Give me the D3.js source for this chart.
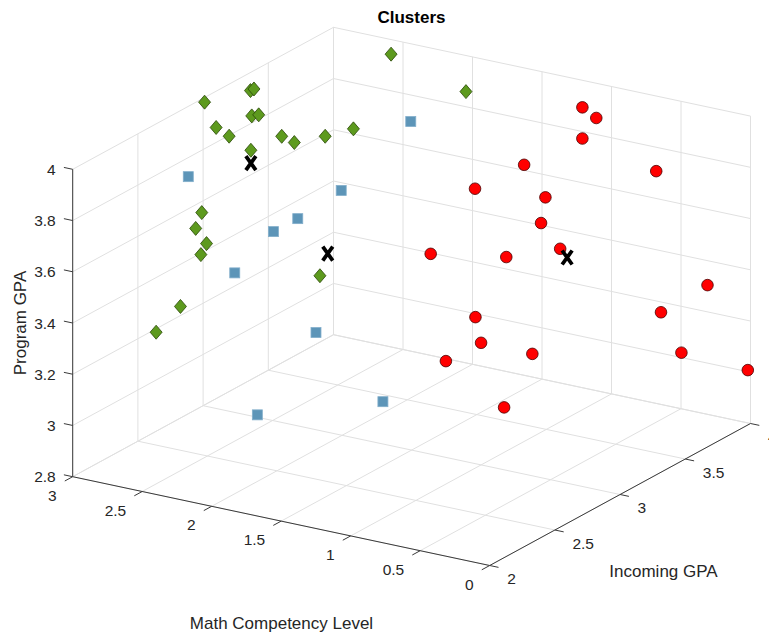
<!DOCTYPE html>
<html>
<head>
<meta charset="utf-8">
<script src="https://cdn.jsdelivr.net/npm/d3@7"></script>
<style>
  body { margin: 0; background: #fff; }
  svg { display: block; }
  text { font-family: "Liberation Sans", Arial, Helvetica, sans-serif; }
</style>
</head>
<body>
<script>
// ---- data: math competency level, incoming GPA, program GPA per cluster ----
const cluster1Math     = [2.52, 1.85, 2.98, 2.95, 2.85, 2.80, 2.75, 2.85, 2.70, 2.50, 2.40, 2.30, 2.20, 2.60, 2.70, 2.80, 2.60, 2.50, 2.60, 2.70, 2.00];
const cluster1Incoming = [3.93, 3.79, 2.99, 3.31, 3.23, 3.16, 3.16, 2.94, 2.88, 3.07, 3.06, 3.19, 3.30, 2.94, 2.67, 2.73, 2.60, 2.45, 2.40, 2.32, 2.83];
const cluster1Program  = [3.97, 3.94, 3.99, 3.95, 3.99, 3.91, 3.92, 3.92, 3.92, 3.89, 3.88, 3.88, 3.89, 3.86, 3.68, 3.59, 3.59, 3.60, 3.40, 3.31, 3.47];

const cluster2Math     = [2.60, 1.80, 2.00, 2.10, 1.90, 2.20, 1.70, 2.00, 1.50];
const cluster2Incoming = [2.46, 2.78, 2.66, 2.58, 3.42, 2.39, 2.48, 2.35, 2.78];
const cluster2Program  = [3.89, 3.84, 3.74, 3.70, 3.92, 3.58, 3.38, 3.06, 3.05];

const cluster3Math     = [1.05, 0.95, 0.90, 1.00, 0.50, 1.10, 0.80, 0.70, 0.60, 1.10, 0.80, 0.15, 0.40, 0.90, 0.70, 0.50, 1.00, 0.30, 0.01, 0.60];
const cluster3Incoming = [3.83, 3.83, 3.67, 3.33, 3.81, 3.06, 3.28, 3.14, 3.18, 2.72, 2.98, 3.83, 3.74, 2.85, 2.68, 2.86, 2.73, 3.79, 3.99, 2.75];
const cluster3Program  = [3.96, 3.93, 3.90, 3.88, 3.78, 3.85, 3.79, 3.74, 3.64, 3.69, 3.64, 3.37, 3.26, 3.43, 3.40, 3.33, 3.28, 3.10, 3.01, 3.14];

// cluster centres
const centroidMath     = [2.60, 2.00, 0.70];
const centroidIncoming = [2.94, 2.89, 3.34];
const centroidProgram  = [3.81, 3.54, 3.55];

// axis ticks
const mathTicks     = [0, 0.5, 1, 1.5, 2, 2.5, 3];
const incomingTicks = [2, 2.5, 3, 3.5, 4];
const programTicks  = [2.8, 3, 3.2, 3.4, 3.6, 3.8, 4];

// ---- layout ----
const W = 769, H = 633;
const svg = d3.select("body").append("svg").attr("width", W).attr("height", H);

const xScale = d3.scaleLinear().domain([0, 3]).range([0, 1]);
const yScale = d3.scaleLinear().domain([2, 4]).range([0, 1]);
const zScale = d3.scaleLinear().domain([2.8, 4]).range([0, 1]);
const [x0, x1] = xScale.domain();
const [y0, y1] = yScale.domain();
const [z0, z1] = zScale.domain();

// orthographic view: screen vectors of the normalised box edges
const origin = [489.7, 565.5];        // (math 0, incoming 2, program 2.8)
const edgeX = [-417, -88.8];
const edgeY = [260.8, -142];
const edgeZ = [0, -307.4];

function project(x, y, z) {
  const u = xScale(x), v = yScale(y), w = zScale(z);
  return [origin[0] + u * edgeX[0] + v * edgeY[0] + w * edgeZ[0],
          origin[1] + u * edgeX[1] + v * edgeY[1] + w * edgeZ[1]];
}
function unit(v) { const l = Math.hypot(v[0], v[1]); return [v[0] / l, v[1] / l]; }

// ---- grid on the back planes ----
const grid = svg.append("g").attr("stroke", "#e0e0e0").attr("stroke-width", 1).attr("fill", "none");
function gridLine(a, b) {
  grid.append("line").attr("x1", a[0]).attr("y1", a[1]).attr("x2", b[0]).attr("y2", b[1]);
}
// floor
mathTicks.forEach(t => gridLine(project(t, y0, z0), project(t, y1, z0)));
incomingTicks.forEach(t => gridLine(project(x0, t, z0), project(x1, t, z0)));
// left wall (math = 3)
incomingTicks.forEach(t => gridLine(project(x1, t, z0), project(x1, t, z1)));
programTicks.forEach(t => gridLine(project(x1, y0, t), project(x1, y1, t)));
// right wall (incoming = 4)
mathTicks.forEach(t => gridLine(project(t, y1, z0), project(t, y1, z1)));
programTicks.forEach(t => gridLine(project(x0, y1, t), project(x1, y1, t)));

// ---- axes ----
const axes = svg.append("g").attr("stroke", "#3a3a3a").attr("stroke-width", 1).attr("fill", "none");
function axisLine(a, b) {
  axes.append("line").attr("x1", a[0]).attr("y1", a[1]).attr("x2", b[0]).attr("y2", b[1]);
}
axisLine(project(x1, y0, z0), project(x1, y0, z1));   // program GPA
axisLine(project(x0, y0, z0), project(x1, y0, z0));   // math level
axisLine(project(x0, y0, z0), project(x0, y1, z0));   // incoming GPA

const tickLen = 9;
const dirZTick = unit(edgeX);
const dirXTick = unit([-edgeY[0], -edgeY[1]]);
const dirYTick = unit([-edgeX[0], -edgeX[1]]);

const labels = svg.append("g").attr("fill", "#262626").attr("font-size", 15.5);

programTicks.forEach(t => {
  const p = project(x1, y0, t);
  axisLine(p, [p[0] + dirZTick[0] * tickLen, p[1] + dirZTick[1] * tickLen]);
  labels.append("text").attr("x", p[0] - 17).attr("y", p[1])
    .attr("text-anchor", "end").attr("dominant-baseline", "central").text(String(t));
});
mathTicks.forEach(t => {
  const p = project(t, y0, z0);
  axisLine(p, [p[0] + dirXTick[0] * tickLen, p[1] + dirXTick[1] * tickLen]);
  labels.append("text").attr("x", p[0] - 16).attr("y", p[1] + 18.5)
    .attr("text-anchor", "end").attr("dominant-baseline", "central").text(String(t));
});
incomingTicks.forEach(t => {
  const p = project(x0, t, z0);
  axisLine(p, [p[0] + dirYTick[0] * tickLen, p[1] + dirYTick[1] * tickLen]);
  labels.append("text").attr("x", p[0] + 17.5).attr("y", p[1] + 13)
    .attr("text-anchor", "start").attr("dominant-baseline", "central").text(String(t));
});

// axis titles
const titles = svg.append("g").attr("fill", "#262626").attr("font-size", 17).attr("text-anchor", "middle");
titles.append("text").attr("x", 281.5).attr("y", 623).attr("dominant-baseline", "central").text("Math Competency Level");
titles.append("text").attr("x", 663.5).attr("y", 571).attr("dominant-baseline", "central").text("Incoming GPA");
titles.append("text").attr("transform", "translate(20,323) rotate(-90)").attr("dominant-baseline", "central").text("Program GPA");
svg.append("text").attr("x", 411.5).attr("y", 17.5).attr("text-anchor", "middle")
  .attr("dominant-baseline", "central").attr("font-size", 17).attr("font-weight", "bold")
  .attr("fill", "#000").text("Clusters");

// ---- markers ----
const marks = svg.append("g");

const greenPts = cluster1Math.map((m, i) => project(m, cluster1Incoming[i], cluster1Program[i]));
marks.append("g").selectAll("path").data(greenPts).join("path")
  .attr("transform", d => `translate(${d[0]},${d[1]})`)
  .attr("d", "M0,-7L6,0L0,7L-6,0Z")
  .attr("fill", "#5d9a1e").attr("stroke", "#2a4808").attr("stroke-width", 0.8);

const bluePts = cluster2Math.map((m, i) => project(m, cluster2Incoming[i], cluster2Program[i]));
marks.append("g").selectAll("rect").data(bluePts).join("rect")
  .attr("x", d => d[0] - 5).attr("y", d => d[1] - 5).attr("width", 10).attr("height", 10)
  .attr("fill", "#5d95b8").attr("stroke", "#82aecb").attr("stroke-width", 0.8);

const redPts = cluster3Math.map((m, i) => project(m, cluster3Incoming[i], cluster3Program[i]));
marks.append("g").selectAll("circle").data(redPts).join("circle")
  .attr("cx", d => d[0]).attr("cy", d => d[1]).attr("r", 5.8)
  .attr("fill", "#ff0000").attr("stroke", "#4a0000").attr("stroke-width", 0.8);

const centrePts = centroidMath.map((m, i) => project(m, centroidIncoming[i], centroidProgram[i]));
marks.append("g").selectAll("path").data(centrePts).join("path")
  .attr("transform", d => `translate(${d[0]},${d[1]})`)
  .attr("d", "M-5,-7L5,7M-5,7L5,-7")
  .attr("fill", "none").attr("stroke", "#000").attr("stroke-width", 3.8);
</script>
</body>
</html>
